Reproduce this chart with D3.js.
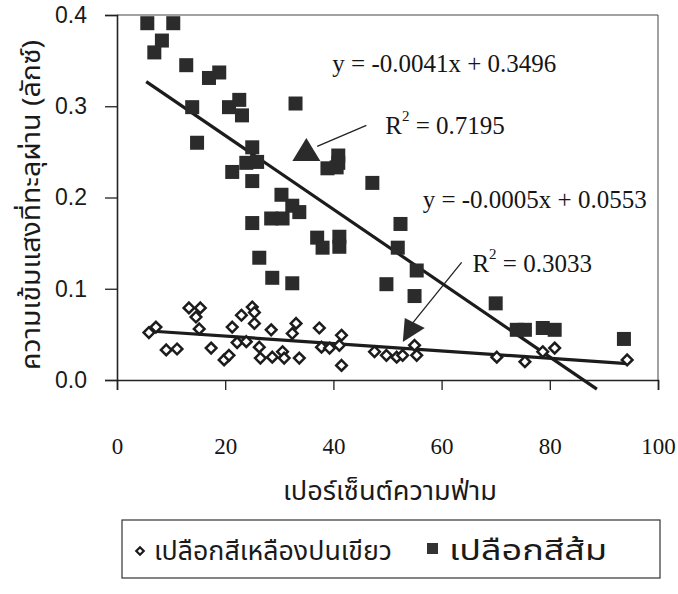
<!DOCTYPE html>
<html>
<head>
<meta charset="utf-8">
<script src="https://cdn.jsdelivr.net/npm/d3@7"></script>
<style>
  body { margin: 0; background: #fff; }
  .thai { font-family: "Noto Sans Thai", "Noto Sans Thai Looped", "Noto Sans", "DejaVu Sans", sans-serif; fill: #1a1a1a; }
  .serif { font-family: "Liberation Serif", "Times New Roman", serif; fill: #151515; }
  .sans { font-family: "Liberation Sans", Arial, sans-serif; fill: #1a1a1a; }
</style>
</head>
<body>
<script>
'use strict';

// tick values
const xTicks = [0, 20, 40, 60, 80, 100];
const yTicks = [0.0, 0.1, 0.2, 0.3, 0.4];

// orange peel (filled squares)
const orangeX = [5.6, 10.4, 8.3, 6.9, 12.8, 17.0, 18.9, 13.9, 14.8, 20.7, 22.6, 23.1, 33.0, 25.0, 23.9, 25.9,
  21.3, 25.0, 40.9, 40.9, 38.9, 40.6, 47.2, 30.4, 32.4, 33.7, 28.5, 30.6, 25.0, 37.0, 38.0, 41.1,
  41.1, 26.3, 28.7, 32.4, 52.4, 51.9, 55.4, 49.8, 55.0, 70.0, 73.9, 75.4, 78.7, 80.9, 93.7];
const orangeY = [0.391, 0.391, 0.372, 0.359, 0.345, 0.331, 0.337, 0.299, 0.260, 0.299, 0.307, 0.290, 0.303, 0.255, 0.238, 0.239,
  0.228, 0.218, 0.246, 0.238, 0.232, 0.233, 0.216, 0.203, 0.191, 0.184, 0.177, 0.177, 0.172, 0.156, 0.145, 0.157,
  0.146, 0.134, 0.112, 0.106, 0.171, 0.145, 0.120, 0.105, 0.092, 0.084, 0.055, 0.055, 0.057, 0.055, 0.045];

// yellow-green peel (open diamonds)
const greenX = [5.9, 7.2, 9.1, 11.1, 13.3, 15.4, 14.6, 15.2, 17.4, 19.8, 20.7, 21.3, 23.0, 25.0, 25.4, 25.4,
  22.2, 23.9, 26.3, 26.5, 28.5, 28.7, 30.6, 30.9, 32.4, 33.1, 33.7, 37.4, 37.8, 39.3, 41.5, 41.1,
  41.5, 47.6, 49.8, 51.7, 52.8, 55.0, 55.4, 70.2, 75.4, 78.7, 80.9, 94.3];
const greenY = [0.052, 0.058, 0.033, 0.034, 0.079, 0.079, 0.069, 0.056, 0.035, 0.022, 0.027, 0.058, 0.071, 0.080, 0.074, 0.062,
  0.041, 0.042, 0.036, 0.024, 0.055, 0.025, 0.031, 0.024, 0.051, 0.062, 0.024, 0.057, 0.036, 0.035, 0.049, 0.038,
  0.016, 0.031, 0.027, 0.025, 0.027, 0.038, 0.027, 0.025, 0.020, 0.031, 0.035, 0.022];

// trend line end points [x, y]
const orangeTrend = [[5.4, 0.327], [88.7, -0.01]];
const greenTrend = [[5.4, 0.054], [94.3, 0.018]];

const orangeEq = "y = -0.0041x + 0.3496";
const orangeR2 = "0.7195";
const greenEq = "y = -0.0005x + 0.0553";
const greenR2 = "0.3033";

const xTitle = "เปอร์เซ็นต์ความฟ่าม";
const yTitle = "ความเข้มแสงที่ทะลุผ่าน (ลักซ์)";
const seriesNames = ["เปลือกสีเหลืองปนเขียว", "เปลือกสีส้ม"];

(function() {

  let svg = "";
  let x = null;
  let y = null;

  window.onload = function() {
    svg = d3.select('body')
      .append('svg')
      .attr('width', 678)
      .attr('height', 594);

    makeScales();
    drawAxes();
    drawTrends();
    plotData();
    drawLabels();
    drawLegend();
  }

  function makeScales() {
    x = d3.scaleLinear().domain([0, 100]).range([117, 658]);
    y = d3.scaleLinear().domain([0, 0.4]).range([380, 15]);
  }

  function drawAxes() {
    // thin top and right frame
    svg.append('path')
      .attr('d', `M${x(0)},${y(0.4)}H${x(100)}V${y(0)}`)
      .attr('fill', 'none')
      .attr('stroke', '#444')
      .attr('stroke-width', 1);

    let yAxis = d3.axisLeft(y).tickValues(yTicks).tickSize(12).tickFormat(d3.format('.1f'));
    let gy = svg.append('g')
      .attr('transform', `translate(${x(0)},0)`)
      .call(yAxis);
    gy.select('.domain').attr('stroke', '#222').attr('stroke-width', 1.6);
    gy.selectAll('.tick line').attr('stroke', '#222').attr('stroke-width', 1.3);
    gy.selectAll('.tick text')
      .attr('class', 'sans')
      .attr('x', -30)
      .style('font-size', '23px');

    let xAxis = d3.axisBottom(x).tickValues(xTicks).tickSize(10);
    let gx = svg.append('g')
      .attr('transform', `translate(0,${y(0)})`)
      .call(xAxis);
    gx.select('.domain').attr('stroke', '#222').attr('stroke-width', 1.6);
    gx.selectAll('.tick line').attr('stroke', '#222').attr('stroke-width', 1.3);
    gx.selectAll('.tick text')
      .attr('class', 'serif')
      .attr('y', 58)
      .style('font-size', '23px');
  }

  function drawTrends() {
    let line = d3.line().x(d => x(d[0])).y(d => y(d[1]));
    [orangeTrend, greenTrend].forEach(t => {
      svg.append('path')
        .attr('d', line(t))
        .attr('fill', 'none')
        .attr('stroke', '#1c1c1c')
        .attr('stroke-width', 3.2);
    });
  }

  function plotData() {
    let orange = orangeX.map((v, i) => ({ x: v, y: orangeY[i] }));
    let green = greenX.map((v, i) => ({ x: v, y: greenY[i] }));

    svg.selectAll('.sq')
      .data(orange)
      .enter()
      .append('rect')
      .attr('class', 'sq')
      .attr('x', d => x(d.x) - 7)
      .attr('y', d => y(d.y) - 7)
      .attr('width', 14)
      .attr('height', 14)
      .attr('fill', '#2b2b2b');

    let diamond = d3.symbol().type(d3.symbolDiamond2).size(72);
    svg.selectAll('.dm')
      .data(green)
      .enter()
      .append('path')
      .attr('class', 'dm')
      .attr('d', diamond)
      .attr('transform', d => `translate(${x(d.x)},${y(d.y)})`)
      .attr('fill', '#fff')
      .attr('stroke', '#1c1c1c')
      .attr('stroke-width', 2.5);
  }

  function drawLabels() {
    // equations and R squared
    svg.append('text').attr('class', 'serif')
      .attr('x', x(39.8)).attr('y', y(0.337))
      .style('font-size', '25px')
      .text(orangeEq);
    addR2(x(49.6), y(0.270), orangeR2);

    svg.append('text').attr('class', 'serif')
      .attr('x', x(56.5)).attr('y', y(0.189))
      .style('font-size', '25px')
      .text(greenEq);
    addR2(x(65.7), y(0.118), greenR2);

    // arrows pointing from the R squared labels
    svg.append('line')
      .attr('x1', x(46.1)).attr('y1', y(0.279))
      .attr('x2', x(37.0)).attr('y2', y(0.256))
      .attr('stroke', '#222').attr('stroke-width', 1.3);
    let cx = x(35.0), cy = y(0.252);
    svg.append('path')
      .attr('d', `M${cx},${cy - 12}L${cx + 14},${cy + 11}L${cx - 14},${cy + 11}Z`)
      .attr('fill', '#2b2b2b');

    svg.append('line')
      .attr('x1', x(63.7)).attr('y1', y(0.129))
      .attr('x2', x(54.6)).attr('y2', y(0.062))
      .attr('stroke', '#222').attr('stroke-width', 1.3);
    cx = x(54.3); cy = y(0.056);
    svg.append('path')
      .attr('d', `M${cx - 6},${cy - 11}L${cx + 14},${cy - 1}L${cx - 8},${cy + 13}Z`)
      .attr('fill', '#2b2b2b');

    // axis titles
    svg.append('text').attr('class', 'thai')
      .attr('x', 390).attr('y', 500)
      .attr('text-anchor', 'middle')
      .attr('textLength', 214)
      .attr('lengthAdjust', 'spacingAndGlyphs')
      .style('font-size', '26px')
      .text(xTitle);

    svg.append('text').attr('class', 'thai')
      .attr('transform', 'translate(40,205) rotate(-90)')
      .attr('text-anchor', 'middle')
      .attr('textLength', 330)
      .attr('lengthAdjust', 'spacingAndGlyphs')
      .style('font-size', '26px')
      .text(yTitle);
  }

  function addR2(px, py, val) {
    let t = svg.append('text').attr('class', 'serif')
      .attr('x', px).attr('y', py)
      .style('font-size', '25px');
    t.append('tspan').text('R');
    t.append('tspan').attr('dy', -13).style('font-size', '15px').text('2');
    t.append('tspan').attr('dy', 13).text(' = ' + val);
  }

  function drawLegend() {
    svg.append('rect')
      .attr('x', 122).attr('y', 520)
      .attr('width', 538).attr('height', 58)
      .attr('fill', 'none')
      .attr('stroke', '#333')
      .attr('stroke-width', 1.2);

    svg.append('path')
      .attr('d', d3.symbol().type(d3.symbolDiamond2).size(36))
      .attr('transform', 'translate(140,551)')
      .attr('fill', '#fff')
      .attr('stroke', '#1c1c1c')
      .attr('stroke-width', 2.2);
    svg.append('text').attr('class', 'thai')
      .attr('x', 154).attr('y', 560)
      .attr('textLength', 238)
      .attr('lengthAdjust', 'spacingAndGlyphs')
      .style('font-size', '27px')
      .text(seriesNames[0]);

    svg.append('rect')
      .attr('x', 427).attr('y', 543)
      .attr('width', 11).attr('height', 11)
      .attr('fill', '#333');
    svg.append('text').attr('class', 'thai')
      .attr('x', 449).attr('y', 560)
      .attr('textLength', 158)
      .attr('lengthAdjust', 'spacingAndGlyphs')
      .style('font-size', '28px')
      .text(seriesNames[1]);
  }

})();
</script>
</body>
</html>
